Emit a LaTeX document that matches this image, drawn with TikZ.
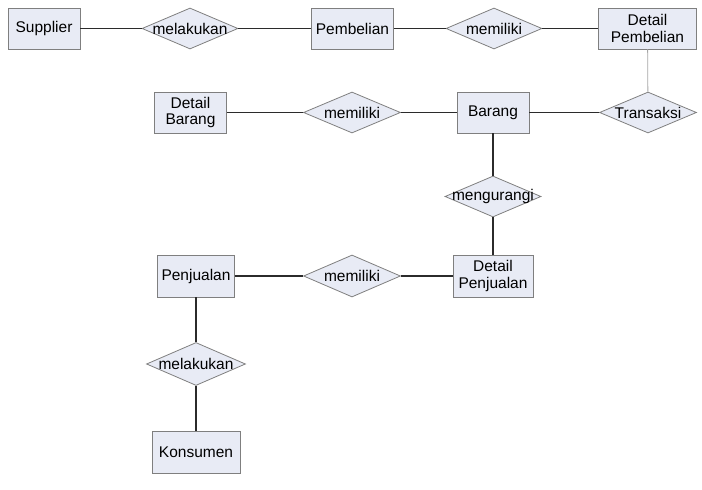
\documentclass[tikz,border=0pt]{standalone}
\usepackage{fontspec}
\setmainfont{Liberation Sans}
\usetikzlibrary{shapes.geometric}
\definecolor{isian}{HTML}{E8EBF5}
\definecolor{tepi}{HTML}{7F7F7F}
\definecolor{garisgelap}{HTML}{2B2B2B}
\begin{document}
\begin{tikzpicture}[x=1pt,y=1pt,
    entitas/.style={draw=tepi, fill=isian, line width=0.8pt, inner sep=0pt, align=center,
      font=\fontsize{15.5}{16.5}\selectfont},
    relasi/.style={diamond, draw=tepi, fill=isian, line width=0.8pt, inner sep=0pt,
      minimum width=97, minimum height=41, label={[font=\fontsize{15.5}{16.5}\selectfont]center:#1}},
    garis/.style={draw=garisgelap, line width=1.4pt}]
\useasboundingbox (0,0) rectangle (702,490);
% entitas
\node[entitas, minimum width=72, minimum height=41] (supplier) at (44,461.5) {Supplier};
\node[entitas, minimum width=82, minimum height=41] (pembelian) at (352.5,461.5) {Pembelian};
\node[entitas, minimum width=98, minimum height=41] (dpembelian) at (647.5,461.5) {Detail\\Pembelian};
\node[entitas, minimum width=72, minimum height=41] (dbarang) at (190.5,377.5) {Detail\\Barang};
\node[entitas, minimum width=72, minimum height=41] (barang) at (493,377.5) {Barang};
\node[entitas, minimum width=80, minimum height=42] (dpenjualan) at (493,214) {Detail\\Penjualan};
\node[entitas, minimum width=77, minimum height=42] (penjualan) at (196,214) {Penjualan};
\node[entitas, minimum width=88, minimum height=42] (konsumen) at (196,38) {Konsumen};
% relasi
\node[relasi=melakukan, minimum width=96] (melakukan1) at (190,461.5) {};
\node[relasi=memiliki, minimum width=96] (memiliki1) at (494,461.5) {};
\node[relasi=Transaksi] (transaksi) at (648,377.5) {};
\node[relasi=memiliki] (memiliki2) at (352,377.5) {};
\node[relasi=mengurangi, minimum width=96] (mengurangi) at (493,293.5) {};
\node[relasi=memiliki, minimum height=42] (memiliki3) at (352,214) {};
\node[relasi=melakukan, minimum width=99, minimum height=43] (melakukan2) at (196,126) {};
% garis
\draw[garis] (supplier) -- (melakukan1) -- (pembelian) -- (memiliki1) -- (dpembelian);
\draw[draw=gray!70, line width=0.8pt] (dpembelian) -- (transaksi);
\draw[garis] (dbarang) -- (memiliki2) -- (barang) -- (transaksi);
\draw[garis] (barang) -- (mengurangi) -- (dpenjualan);
\draw[garis] (penjualan) -- (memiliki3) -- (dpenjualan);
\draw[garis] (penjualan) -- (melakukan2) -- (konsumen);
\end{tikzpicture}
\end{document}
